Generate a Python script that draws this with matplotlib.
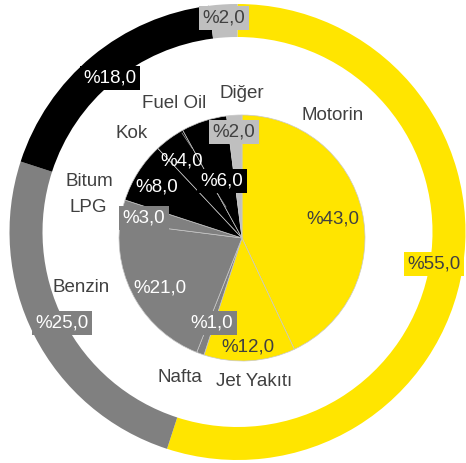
import matplotlib
matplotlib.use("Agg")
import matplotlib.pyplot as plt

plt.rcParams['font.family'] = ['Liberation Sans', 'DejaVu Sans']

# outer ring: product groups
outer_values = [55, 25, 18, 2]
outer_colors = ["#FFE500", "#808080", "#000000", "#BFBFBF"]

# inner pie: products
inner_names = ["Motorin", "Jet Yakıtı", "Nafta", "Benzin", "LPG", "Bitum", "Kok", "Fuel Oil", "Diğer"]
inner_values = [43, 12, 1, 21, 3, 8, 4, 6, 2]
inner_colors = ["#FFE500", "#FFE500", "#808080", "#808080", "#808080",
                "#000000", "#000000", "#000000", "#BFBFBF"]

W, H = 466, 463
DARK = "#404040"
FS = 13.5

def Y(y):
    return H - y

def pct(v):
    return ("%" + "%.1f" % v).replace(".", ",")

def txt_color(c):
    return "white" if c in ("#000000", "#808080") else DARK

fig = plt.figure(figsize=(W / 100, H / 100), dpi=100)
ax = fig.add_axes([0, 0, 1, 1])

ax.pie(outer_values, colors=outer_colors, startangle=90, counterclock=False,
       radius=228, center=(237.5, Y(232)),
       wedgeprops=dict(width=33, linewidth=0))
ax.pie(inner_values, colors=inner_colors, startangle=90, counterclock=False,
       radius=123, center=(242, Y(238)),
       wedgeprops=dict(linewidth=0.5, edgecolor="#c8c8c8"))

ax.set_xlim(0, W)
ax.set_ylim(0, H)
ax.axis("off")

# value labels (pixel positions taken from the reference layout)
outer_pos = [(434, 264), (62, 323), (110, 78), (224, 18)]
inner_pos = [(333, 219), (248, 347), (212, 323), (160, 288), (144, 218),
             (157, 187), (182, 161), (222, 181), (234, 132)]
boxed_inner = [False, False, True, False, True, False, False, True, True]

for v, c, (x, y) in zip(outer_values, outer_colors, outer_pos):
    ax.text(x, Y(y), pct(v), ha="center", va="center", fontsize=FS,
            color=txt_color(c),
            bbox=dict(boxstyle="square,pad=0.2", fc=c, ec="none"))

for v, c, (x, y), b in zip(inner_values, inner_colors, inner_pos, boxed_inner):
    kw = dict(bbox=dict(boxstyle="square,pad=0.2", fc=c, ec="none")) if b else {}
    ax.text(x, Y(y), pct(v), ha="center", va="center", fontsize=FS,
            color=txt_color(c), **kw)

# category labels
name_pos = [(333, 115), (254, 382), (180, 377), (81, 288), (88, 208),
            (89, 182), (132, 133), (174, 104), (242, 94)]
for n, (x, y) in zip(inner_names, name_pos):
    ax.text(x, Y(y), n, ha="center", va="center", fontsize=FS, color=DARK)

# faint leader lines
ax.plot([182, 192], [Y(133), Y(148)], color="#a0a0a0", lw=0.5)
ax.plot([217, 226], [Y(193), Y(207)], color="#a0a0a0", lw=0.5)

fig.savefig("out.png", dpi=100)
